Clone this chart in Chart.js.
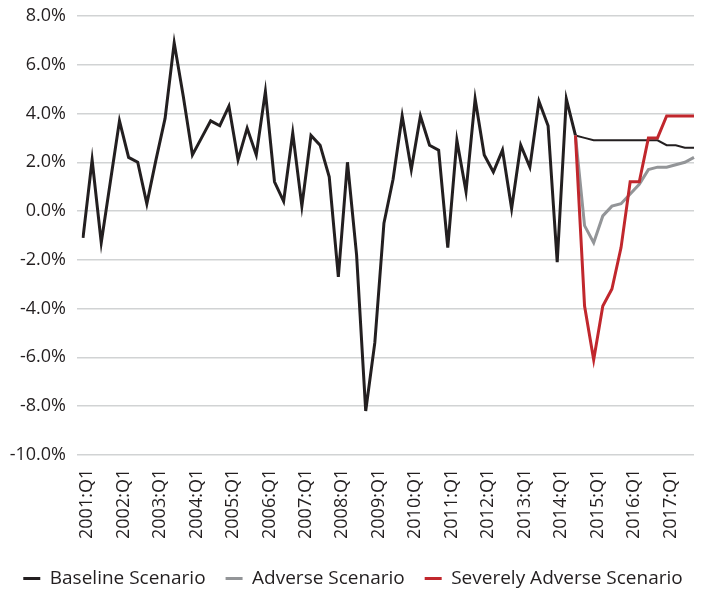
<!DOCTYPE html>
<html>
<head>
<meta charset="utf-8">
<script src="https://cdn.jsdelivr.net/npm/chart.js@4.4.1/dist/chart.umd.min.js"></script>
<style>
  html, body { margin: 0; padding: 0; background: #fff; }
  #wrap { width: 706px; height: 590px; }
</style>
</head>
<body>
<div id="wrap"><canvas id="gdpChart" width="706" height="590"></canvas></div>
<script>
// quarters 2001:Q1 .. 2017:Q4
const years = [2001, 2002, 2003, 2004, 2005, 2006, 2007, 2008, 2009,
               2010, 2011, 2012, 2013, 2014, 2015, 2016, 2017];
const quarters = ["Q1", "Q2", "Q3", "Q4"];

// real GDP growth, history + baseline projection
const baseline = [
  -1.1, 2.1, -1.3, 1.2,   3.7, 2.2, 2.0, 0.3,   2.1, 3.8, 6.9, 4.7,
   2.3, 3.0, 3.7, 3.5,    4.3, 2.1, 3.4, 2.3,   4.9, 1.2, 0.4, 3.2,
   0.2, 3.1, 2.7, 1.4,   -2.7, 2.0, -1.8, -8.2, -5.4, -0.5, 1.3, 3.9,
   1.7, 3.9, 2.7, 2.5,   -1.5, 2.9, 0.8, 4.6,   2.3, 1.6, 2.5, 0.1,
   2.7, 1.8, 4.5, 3.5,   -2.1, 4.6, 3.1, 3.0,   2.9, 2.9, 2.9, 2.9,
   2.9, 2.9, 2.9, 2.9,    2.7, 2.7, 2.6, 2.6
];
// scenarios start at 2014:Q3 (index 54)
const scenarioStart = 54;
const adverse = [3.1, -0.6, -1.3, -0.2, 0.2, 0.3, 0.7, 1.1, 1.7, 1.8, 1.8, 1.9, 2.0, 2.2];
const severelyAdverse = [3.1, -3.9, -6.1, -3.9, -3.2, -1.5, 1.2, 1.2, 3.0, 3.0, 3.9, 3.9, 3.9, 3.9];

const labels = [];
years.forEach(y => quarters.forEach(q => labels.push(y + ":" + q)));

const pad = arr => Array(scenarioStart).fill(null).concat(arr);

const FONT = "'Open Sans', sans-serif";
const TEXT = "#231f20";

new Chart(document.getElementById("gdpChart"), {
  type: "line",
  data: {
    labels: labels,
    datasets: [
      {
        label: "Baseline Scenario",
        data: baseline,
        borderColor: "#231f20",
        backgroundColor: "#231f20",
        borderWidth: 3,
        segment: { borderWidth: ctx => ctx.p0DataIndex >= scenarioStart ? 2 : 3 },
        order: 3
      },
      {
        label: "Adverse Scenario",
        data: pad(adverse),
        borderColor: "#939598",
        backgroundColor: "#939598",
        borderWidth: 3,
        order: 2
      },
      {
        label: "Severely Adverse Scenario",
        data: pad(severelyAdverse),
        borderColor: "#c1272d",
        backgroundColor: "#c1272d",
        borderWidth: 3,
        order: 1
      }
    ]
  },
  options: {
    responsive: false,
    animation: false,
    layout: { padding: { top: 0, right: 0, bottom: -8, left: 0 } },
    elements: {
      point: { radius: 0, hoverRadius: 0 },
      line: { tension: 0, borderJoinStyle: "miter", borderCapStyle: "butt" }
    },
    plugins: {
      tooltip: { enabled: false },
      legend: {
        position: "bottom",
        labels: {
          usePointStyle: true,
          pointStyle: "line",
          pointStyleWidth: 17,
          padding: 20,
          color: TEXT,
          font: { family: FONT, size: 19 },
          sort: (a, b) => a.datasetIndex - b.datasetIndex
        }
      }
    },
    scales: {
      x: {
        grid: { display: false, drawTicks: false },
        border: { display: false },
        afterFit: s => { s.height -= 4; s.paddingLeft = 0; s.paddingRight = 0; },
        ticks: {
          autoSkip: false,
          maxRotation: 90,
          minRotation: 90,
          padding: 14,
          labelOffset: 4,
          color: TEXT,
          font: { family: FONT, size: 18 },
          callback: function (v, i) { return i % 4 === 0 ? labels[i] : ""; }
        }
      },
      y: {
        min: -10,
        max: 8,
        afterFit: s => { s.width = 83; s.paddingTop = 16; s.paddingBottom = 0; },
        grid: { color: "#d1d3d4", lineWidth: 1.5, tickLength: 6 },
        border: { display: false },
        ticks: {
          stepSize: 2,
          padding: 11,
          color: TEXT,
          font: { family: FONT, size: 18 },
          callback: v => v.toFixed(1) + "%"
        }
      },
      // empty right-hand spacer so the plot stops short of the edge
      yRight: {
        position: "right",
        afterFit: s => { s.width = 12; s.paddingTop = 0; s.paddingBottom = 0; },
        grid: { display: false },
        border: { display: false },
        ticks: { display: false }
      }
    }
  }
});
</script>
</body>
</html>
